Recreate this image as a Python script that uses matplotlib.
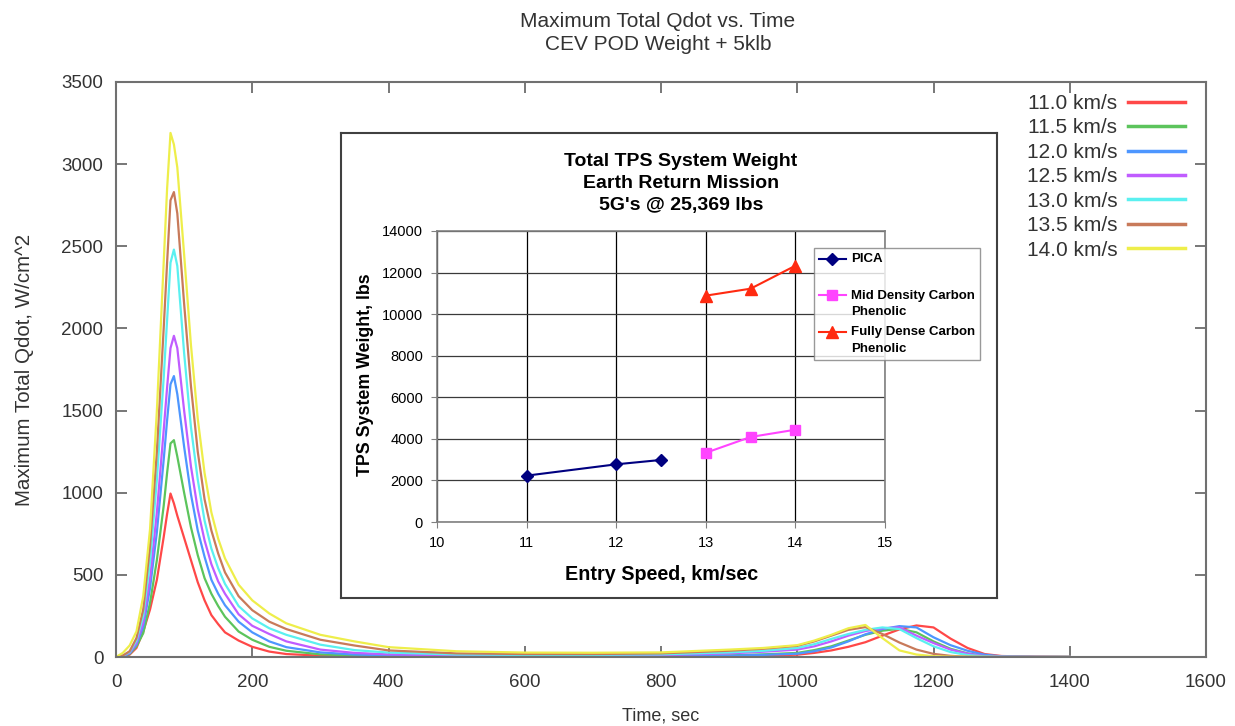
import matplotlib
matplotlib.use("Agg")
import matplotlib.pyplot as plt
from matplotlib.legend_handler import HandlerLine2D
from matplotlib.lines import Line2D

plt.rcParams['font.family'] = ['Liberation Sans', 'DejaVu Sans']

# main chart: max total heat flux vs time, one series per entry speed
time_s = [0, 10, 20, 30, 40, 50, 60, 70, 75, 80, 85, 90, 100, 110, 120, 130, 140, 150, 160,
          180, 200, 225, 250, 300, 350, 400, 500, 600, 700, 800, 900, 950, 1000, 1025, 1050,
          1075, 1100, 1125, 1150, 1175, 1200, 1225, 1250, 1275, 1300, 1350, 1400]

qdot_11_0 = [0, 4, 14, 55, 155, 290, 470, 730, 870, 995, 935, 860, 725, 590, 455, 345, 255, 200, 150,
             100, 62, 33, 18, 8, 4, 3, 2, 2, 2, 3, 5, 9, 14, 25, 40,
             62, 90, 130, 168, 192, 180, 112, 55, 18, 6, 2, 1]
qdot_11_5 = [0, 5, 18, 65, 145, 330, 590, 920, 1120, 1300, 1320, 1220, 1000, 790, 620, 480, 385, 310, 245,
             155, 105, 62, 38, 16, 9, 6, 4, 4, 4, 5, 10, 16, 25, 42, 65,
             100, 135, 160, 172, 150, 95, 50, 22, 7, 2, 1, 0]
qdot_12_0 = [0, 6, 22, 75, 185, 420, 760, 1200, 1440, 1660, 1710, 1600, 1280, 990, 770, 610, 470, 385, 315,
             215, 150, 95, 60, 28, 15, 10, 7, 6, 6, 7, 8, 13, 20, 35, 58,
             95, 138, 170, 188, 180, 120, 72, 38, 14, 4, 1, 1]
qdot_12_5 = [0, 7, 25, 85, 210, 480, 880, 1380, 1640, 1880, 1955, 1880, 1500, 1160, 900, 710, 565, 460, 385,
             260, 190, 140, 95, 45, 25, 16, 10, 9, 9, 12, 22, 32, 45, 65, 95,
             130, 158, 175, 180, 130, 85, 45, 20, 6, 2, 1, 0]
qdot_13_0 = [0, 8, 30, 100, 250, 580, 1080, 1700, 2050, 2400, 2480, 2380, 1850, 1400, 1080, 830, 660, 540, 445,
             310, 235, 175, 135, 75, 42, 27, 15, 13, 13, 16, 28, 38, 55, 78, 110,
             140, 165, 180, 170, 115, 65, 30, 12, 4, 1, 0, 0]
qdot_13_5 = [0, 9, 35, 115, 290, 680, 1250, 2000, 2400, 2780, 2830, 2700, 2150, 1650, 1250, 960, 770, 630, 515,
             370, 285, 215, 170, 105, 70, 40, 22, 18, 18, 22, 38, 50, 68, 95, 130,
             165, 182, 140, 88, 45, 19, 7, 2, 1, 0, 0, 0]
qdot_14_0 = [0, 25, 70, 155, 370, 780, 1500, 2400, 2850, 3190, 3120, 2980, 2450, 1900, 1450, 1120, 880, 720, 600,
             440, 345, 265, 205, 135, 95, 60, 35, 27, 26, 28, 45, 55, 72, 100, 135,
             175, 195, 115, 40, 15, 5, 2, 1, 0, 0, 0, 0]

speed_labels = ['11.0 km/s', '11.5 km/s', '12.0 km/s', '12.5 km/s', '13.0 km/s', '13.5 km/s', '14.0 km/s']
speed_colors = ['#ff4848', '#5cc45c', '#4d96ff', '#c05cff', '#5af0f0', '#c87a5a', '#eeee4a']

# inset chart: TPS system weight vs entry speed
speed_pica = [11, 12, 12.5]
weight_pica = [2230, 2775, 2985]
speed_mid = [13, 13.5, 14]
weight_mid = [3330, 4090, 4440]
speed_full = [13, 13.5, 14]
weight_full = [10890, 11225, 12330]
inset_labels = ['PICA\n ', 'Mid Density Carbon\nPhenolic', 'Fully Dense Carbon\nPhenolic']

W, H = 1235, 726
fig = plt.figure(figsize=(W / 100, H / 100), dpi=100)
fig.patch.set_facecolor('white')


def fx(px):
    return px / W


def fy(py):
    return 1 - py / H


class FirstLineHandler(HandlerLine2D):
    # put the legend marker level with the first text line, like Excel does
    def create_artists(self, legend, orig_handle, xdescent, ydescent, width, height, fontsize, trans):
        return super().create_artists(legend, orig_handle, xdescent, ydescent - 12.0,
                                      width, height, fontsize, trans)


ax = fig.add_axes([fx(116), fy(657), fx(1206 - 116), (657 - 82) / H])
series = [qdot_11_0, qdot_11_5, qdot_12_0, qdot_12_5, qdot_13_0, qdot_13_5, qdot_14_0]
for vals, lab, col in zip(series, speed_labels, speed_colors):
    ax.plot(time_s, vals, color=col, lw=1.6, label=lab)

ax.set_xlim(0, 1600)
ax.set_ylim(0, 3500)
ax.set_xticks(range(0, 1601, 200))
ax.set_yticks(range(0, 3501, 500))
ax.tick_params(direction='in', length=8, width=1.2, color='#606060', labelsize=13.5,
               labelcolor='#333333', top=True, right=True)
ax.tick_params(axis='x', pad=12)
ax.tick_params(axis='y', pad=9)
for sp in ax.spines.values():
    sp.set_color('#707070')
    sp.set_linewidth(1.5)

ax.set_xlabel('Time, sec', fontsize=13, color='#333333')
ax.xaxis.set_label_coords(0.5, -0.088)
ax.set_ylabel('Maximum Total Qdot, W/cm^2', fontsize=14.8, color='#333333')
ax.yaxis.set_label_coords(-0.075, 0.5)

fig.text(fx(658), fy(33), 'Maximum Total Qdot vs. Time\nCEV POD Weight + 5klb',
         ha='center', va='center', fontsize=15, color='#333333', linespacing=1.32)

leg = ax.legend(loc='upper right', bbox_to_anchor=(fx(1185), fy(94)), bbox_transform=fig.transFigure,
                frameon=False, markerfirst=False, fontsize=15, labelspacing=0.26,
                handlelength=2.75, handletextpad=0.5, borderaxespad=0, borderpad=0)
for t in leg.get_texts():
    t.set_color('#333333')
for h in leg.get_lines():
    h.set_linewidth(2.5)

# inset frame
frame = fig.add_axes([fx(341), fy(598), fx(997 - 341), (598 - 133) / H])
frame.set_xticks([])
frame.set_yticks([])
frame.set_facecolor('white')
for sp in frame.spines.values():
    sp.set_color('#404040')
    sp.set_linewidth(1.5)

ins = fig.add_axes([fx(437), fy(522), fx(885 - 437), (522 - 231) / H])
ins.plot(speed_pica, weight_pica, color='#000080', lw=1.5, marker='D', ms=6, label=inset_labels[0])
ins.plot(speed_mid, weight_mid, color='#ff44ff', lw=1.5, marker='s', ms=7, label=inset_labels[1])
ins.plot(speed_full, weight_full, color='#ff2a10', lw=1.5, marker='^', ms=8, label=inset_labels[2])
ins.set_xlim(10, 15)
ins.set_ylim(0, 14000)
ins.set_xticks(range(10, 16))
ins.set_yticks(range(0, 14001, 2000))
ins.grid(True, axis='x', color='black', lw=0.9)
ins.grid(True, axis='y', color='#3a3a3a', lw=0.9)
ins.set_axisbelow(True)
ins.tick_params(direction='out', length=4, color='#808080', labelsize=10.5, pad=6)
for sp in ins.spines.values():
    sp.set_color('#808080')
    sp.set_linewidth(1.2)

fig.text(fx(681), fy(183.5), "Total TPS System Weight\nEarth Return Mission\n5G's @ 25,369 lbs",
         ha='center', va='center', fontsize=14, fontweight='bold', linespacing=1.38)
fig.text(fx(662), fy(575), 'Entry Speed, km/sec', ha='center', va='center',
         fontsize=14.2, fontweight='bold')
fig.text(fx(366), fy(375), 'TPS System Weight, lbs', ha='center', va='center',
         rotation=90, fontsize=12.8, fontweight='bold')

ileg = fig.legend(*ins.get_legend_handles_labels(), loc='upper left',
                  bbox_to_anchor=(fx(814), fy(248)), borderaxespad=0, fancybox=False,
                  prop={'weight': 'bold', 'size': 9.5}, handlelength=2.0,
                  handletextpad=0.4, labelspacing=0.64, borderpad=0.4,
                  handler_map={Line2D: FirstLineHandler()})
for t in ileg.get_texts():
    t.set_linespacing(1.46)
ileg.get_frame().set_edgecolor('#808080')
ileg.get_frame().set_linewidth(1.0)
ileg.set_zorder(10)

fig.savefig('out.png', dpi=100)
